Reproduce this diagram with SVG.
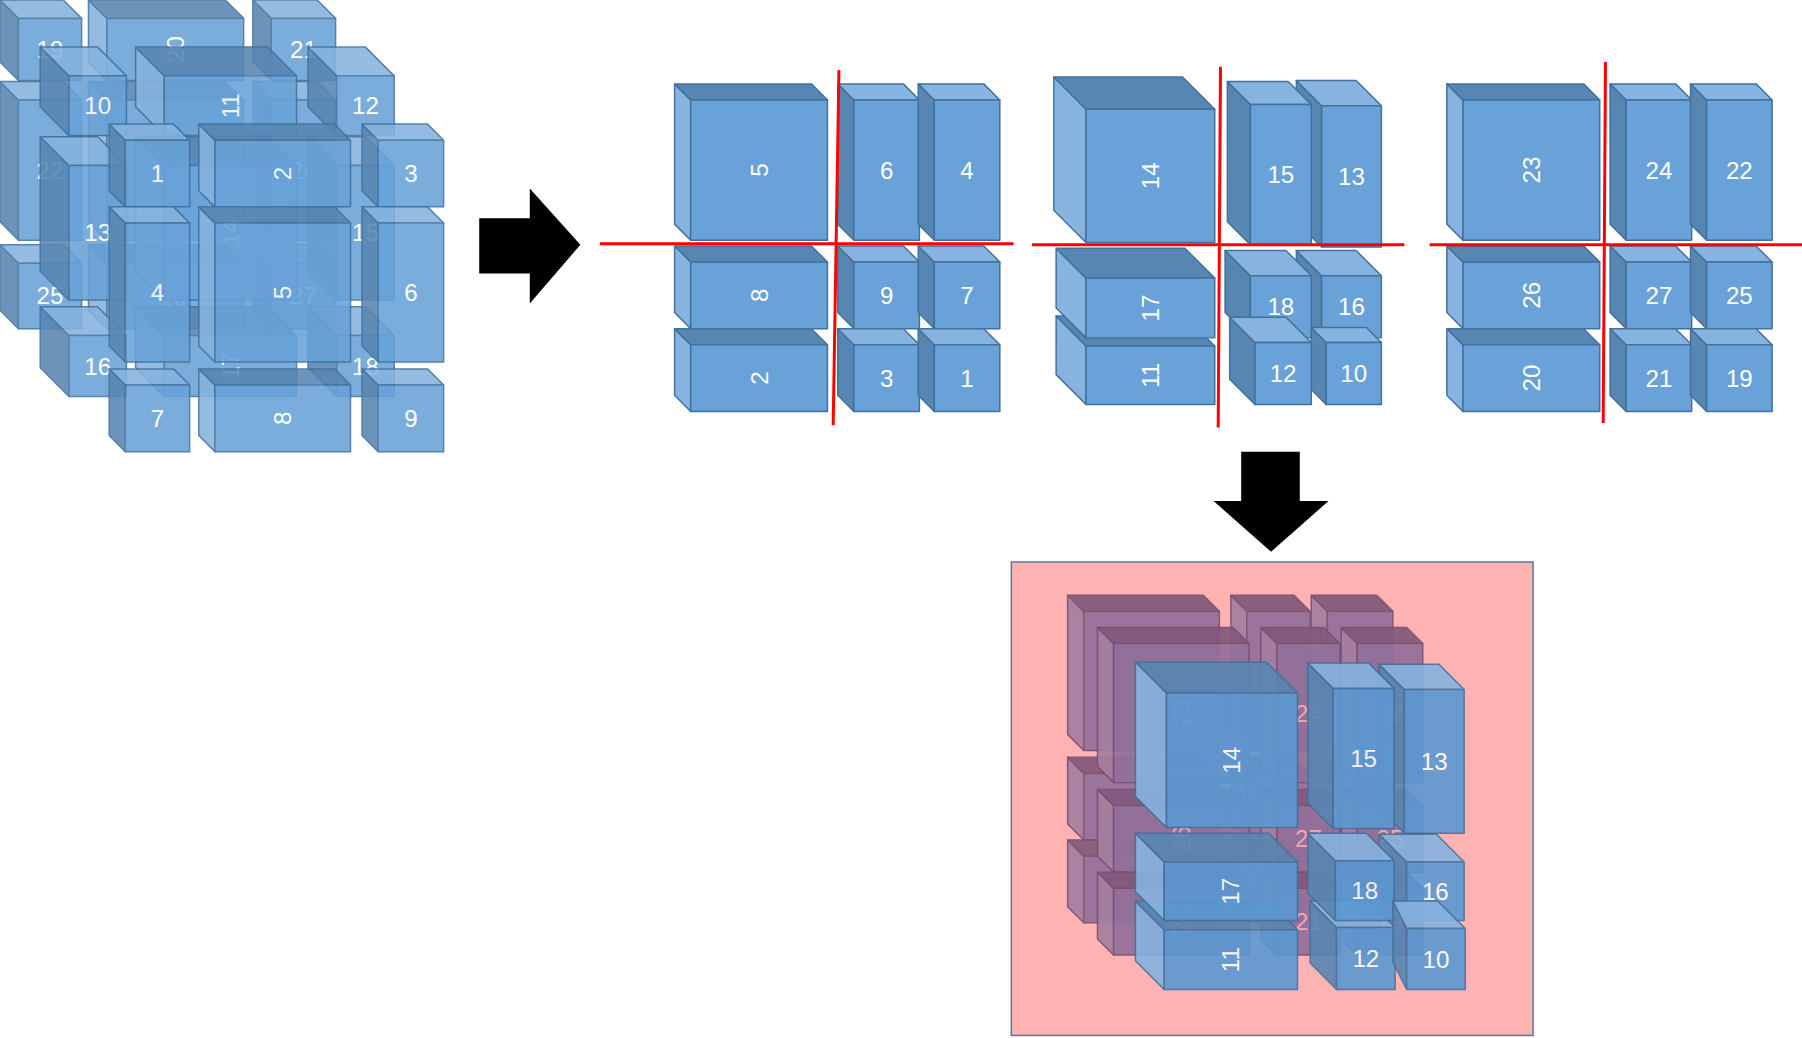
<svg xmlns="http://www.w3.org/2000/svg" width="1802" height="1038" viewBox="0 0 1802 1038">
<style>
.c rect,.c path{stroke:#41719c;stroke-width:1.3;stroke-linejoin:round}
.c rect{fill:#68a2d8}
.c .s{fill:#5886b2}.c .t{fill:#86b3df}
.c.w .t{fill:#5886b2}.c.w .s{fill:#86b3df}
.L .c{opacity:.88}
.P .c{opacity:.93}
.P rect,.P path{stroke:#7a4f72;stroke-width:1.3;stroke-linejoin:round}
.P rect{fill:#93709a}.P .t{fill:#835a7c}.P .s{fill:#a57f9f}
.B .c{opacity:.9}
.B rect{fill:#5b98d2}
text{font-family:"Liberation Sans",Arial,sans-serif;font-size:21px;fill:#fff;text-anchor:middle;dominant-baseline:central}
.P text{fill:#f3aab6}
.red{stroke:#f00;stroke-width:2.6;fill:none}
</style>
<g transform="scale(1.14923)">
<g id="left" class="L">
<g id="l19" class="c"><path class="s" d="M0 0L16 16V70L0 54Z"/><path class="t" d="M0 0H55L71 16H16Z"/><rect x="16" y="16" width="55" height="54"/><text x="43.5" y="43">19</text></g>
<g id="l20" class="c w"><path class="s" d="M77 0L93 16V70L77 54Z"/><path class="t" d="M77 0H196L212 16H93Z"/><rect x="93" y="16" width="119" height="54"/><text x="152.5" y="43" transform="rotate(-90 152.5 43)">20</text></g>
<g id="l21" class="c"><path class="s" d="M220 0L236 16V70L220 54Z"/><path class="t" d="M220 0H276L292 16H236Z"/><rect x="236" y="16" width="56" height="54"/><text x="264" y="43">21</text></g>
<g id="l22" class="c"><path class="s" d="M0 71L16 87V209L0 193Z"/><path class="t" d="M0 71H55L71 87H16Z"/><rect x="16" y="87" width="55" height="122"/><text x="43.5" y="148">22</text></g>
<g id="l23" class="c w"><path class="s" d="M77 71L93 87V209L77 193Z"/><path class="t" d="M77 71H196L212 87H93Z"/><rect x="93" y="87" width="119" height="122"/><text x="152.5" y="148" transform="rotate(-90 152.5 148)">23</text></g>
<g id="l24" class="c"><path class="s" d="M220 71L236 87V209L220 193Z"/><path class="t" d="M220 71H276L292 87H236Z"/><rect x="236" y="87" width="56" height="122"/><text x="264" y="148">24</text></g>
<g id="l25" class="c"><path class="s" d="M0 213L16 229V286L0 270Z"/><path class="t" d="M0 213H55L71 229H16Z"/><rect x="16" y="229" width="55" height="57"/><text x="43.5" y="257.5">25</text></g>
<g id="l26" class="c w"><path class="s" d="M77 213L93 229V286L77 270Z"/><path class="t" d="M77 213H196L212 229H93Z"/><rect x="93" y="229" width="119" height="57"/><text x="152.5" y="257.5" transform="rotate(-90 152.5 257.5)">26</text></g>
<g id="l27" class="c"><path class="s" d="M220 213L236 229V286L220 270Z"/><path class="t" d="M220 213H276L292 229H236Z"/><rect x="236" y="229" width="56" height="57"/><text x="264" y="257.5">27</text></g>

<g id="l10" class="c"><path class="s" d="M35 41L60 66V118L35 93Z"/><path class="t" d="M35 41H85L110 66H60Z"/><rect x="60" y="66" width="50" height="52"/><text x="85" y="92">10</text></g>
<g id="l11" class="c w"><path class="s" d="M118 41L143 66V118L118 93Z"/><path class="t" d="M118 41H233L258 66H143Z"/><rect x="143" y="66" width="115" height="52"/><text x="200.5" y="92" transform="rotate(-90 200.5 92)">11</text></g>
<g id="l12" class="c"><path class="s" d="M268 41L293 66V118L268 93Z"/><path class="t" d="M268 41H318L343 66H293Z"/><rect x="293" y="66" width="50" height="52"/><text x="318" y="92">12</text></g>
<g id="l13" class="c"><path class="s" d="M35 119L60 144V261L35 236Z"/><path class="t" d="M35 119H85L110 144H60Z"/><rect x="60" y="144" width="50" height="117"/><text x="85" y="202.5">13</text></g>
<g id="l14" class="c w"><path class="s" d="M118 119L143 144V261L118 236Z"/><path class="t" d="M118 119H233L258 144H143Z"/><rect x="143" y="144" width="115" height="117"/><text x="200.5" y="202.5" transform="rotate(-90 200.5 202.5)">14</text></g>
<g id="l15" class="c"><path class="s" d="M268 119L293 144V261L268 236Z"/><path class="t" d="M268 119H318L343 144H293Z"/><rect x="293" y="144" width="50" height="117"/><text x="318" y="202.5">15</text></g>
<g id="l16" class="c"><path class="s" d="M35 267L60 292V345L35 320Z"/><path class="t" d="M35 267H85L110 292H60Z"/><rect x="60" y="292" width="50" height="53"/><text x="85" y="318.5">16</text></g>
<g id="l17" class="c w"><path class="s" d="M118 267L143 292V345L118 320Z"/><path class="t" d="M118 267H233L258 292H143Z"/><rect x="143" y="292" width="115" height="53"/><text x="200.5" y="318.5" transform="rotate(-90 200.5 318.5)">17</text></g>
<g id="l18" class="c"><path class="s" d="M268 267L293 292V345L268 320Z"/><path class="t" d="M268 267H318L343 292H293Z"/><rect x="293" y="292" width="50" height="53"/><text x="318" y="318.5">18</text></g>

<g id="l1" class="c"><path class="s" d="M95 108L109 122V180L95 166Z"/><path class="t" d="M95 108H151L165 122H109Z"/><rect x="109" y="122" width="56" height="58"/><text x="137" y="151">1</text></g>
<g id="l2" class="c w"><path class="s" d="M173 108L187 122V180L173 166Z"/><path class="t" d="M173 108H291L305 122H187Z"/><rect x="187" y="122" width="118" height="58"/><text x="246" y="151" transform="rotate(-90 246 151)">2</text></g>
<g id="l3" class="c"><path class="s" d="M315 108L329 122V180L315 166Z"/><path class="t" d="M315 108H372L386 122H329Z"/><rect x="329" y="122" width="57" height="58"/><text x="357.5" y="151">3</text></g>
<g id="l4" class="c"><path class="s" d="M95 180L109 194V315L95 301Z"/><path class="t" d="M95 180H151L165 194H109Z"/><rect x="109" y="194" width="56" height="121"/><text x="137" y="254.5">4</text></g>
<g id="l5" class="c w"><path class="s" d="M173 180L187 194V315L173 301Z"/><path class="t" d="M173 180H291L305 194H187Z"/><rect x="187" y="194" width="118" height="121"/><text x="246" y="254.5" transform="rotate(-90 246 254.5)">5</text></g>
<g id="l6" class="c"><path class="s" d="M315 180L329 194V315L315 301Z"/><path class="t" d="M315 180H372L386 194H329Z"/><rect x="329" y="194" width="57" height="121"/><text x="357.5" y="254.5">6</text></g>
<g id="l7" class="c"><path class="s" d="M95 321L109 335V393L95 379Z"/><path class="t" d="M95 321H151L165 335H109Z"/><rect x="109" y="335" width="56" height="58"/><text x="137" y="364">7</text></g>
<g id="l8" class="c w"><path class="s" d="M173 321L187 335V393L173 379Z"/><path class="t" d="M173 321H291L305 335H187Z"/><rect x="187" y="335" width="118" height="58"/><text x="246" y="364" transform="rotate(-90 246 364)">8</text></g>
<g id="l9" class="c"><path class="s" d="M315 321L329 335V393L315 379Z"/><path class="t" d="M315 321H372L386 335H329Z"/><rect x="329" y="335" width="57" height="58"/><text x="357.5" y="364">9</text></g>
</g>

<g id="connectors">
<polygon points="417,190 461,190 461,164 505,213 461,264 461,238 417,238" fill="#000"/>
<polygon points="1080,393 1131,393 1131,436 1156,436 1106,480 1056,436 1080,436" fill="#000"/>
</g>

<g id="panelA">
<g id="a5" class="c w"><path class="s" d="M587 73L601 87V209L587 195Z"/><path class="t" d="M587 73H706L720 87H601Z"/><rect x="601" y="87" width="119" height="122"/><text x="660.5" y="148" transform="rotate(-90 660.5 148)">5</text></g>
<g id="a6" class="c"><path class="s" d="M729 73L743 87V209L729 195Z"/><path class="t" d="M729 73H786L800 87H743Z"/><rect x="743" y="87" width="57" height="122"/><text x="771.5" y="148">6</text></g>
<g id="a4" class="c"><path class="s" d="M799 73L813 87V209L799 195Z"/><path class="t" d="M799 73H856L870 87H813Z"/><rect x="813" y="87" width="57" height="122"/><text x="841.5" y="148">4</text></g>
<g id="a8" class="c w"><path class="s" d="M587 214L601 228V286L587 272Z"/><path class="t" d="M587 214H706L720 228H601Z"/><rect x="601" y="228" width="119" height="58"/><text x="660.5" y="257" transform="rotate(-90 660.5 257)">8</text></g>
<g id="a9" class="c"><path class="s" d="M729 214L743 228V286L729 272Z"/><path class="t" d="M729 214H786L800 228H743Z"/><rect x="743" y="228" width="57" height="58"/><text x="771.5" y="257">9</text></g>
<g id="a7" class="c"><path class="s" d="M799 214L813 228V286L799 272Z"/><path class="t" d="M799 214H856L870 228H813Z"/><rect x="813" y="228" width="57" height="58"/><text x="841.5" y="257">7</text></g>
<g id="a2" class="c w"><path class="s" d="M587 286L601 300V358L587 344Z"/><path class="t" d="M587 286H706L720 300H601Z"/><rect x="601" y="300" width="119" height="58"/><text x="660.5" y="329" transform="rotate(-90 660.5 329)">2</text></g>
<g id="a3" class="c"><path class="s" d="M729 286L743 300V358L729 344Z"/><path class="t" d="M729 286H786L800 300H743Z"/><rect x="743" y="300" width="57" height="58"/><text x="771.5" y="329">3</text></g>
<g id="a1" class="c"><path class="s" d="M799 286L813 300V358L799 344Z"/><path class="t" d="M799 286H856L870 300H813Z"/><rect x="813" y="300" width="57" height="58"/><text x="841.5" y="329">1</text></g>
<path class="red" d="M522 212H882M730 61L725 370"/>
</g>

<g id="panelC" transform="translate(672,0)">
<g id="c23" class="c w"><path class="s" d="M587 73L601 87V209L587 195Z"/><path class="t" d="M587 73H706L720 87H601Z"/><rect x="601" y="87" width="119" height="122"/><text x="660.5" y="148" transform="rotate(-90 660.5 148)">23</text></g>
<g id="c24" class="c"><path class="s" d="M729 73L743 87V209L729 195Z"/><path class="t" d="M729 73H786L800 87H743Z"/><rect x="743" y="87" width="57" height="122"/><text x="771.5" y="148">24</text></g>
<g id="c22" class="c"><path class="s" d="M799 73L813 87V209L799 195Z"/><path class="t" d="M799 73H856L870 87H813Z"/><rect x="813" y="87" width="57" height="122"/><text x="841.5" y="148">22</text></g>
<g id="c26" class="c w"><path class="s" d="M587 214L601 228V286L587 272Z"/><path class="t" d="M587 214H706L720 228H601Z"/><rect x="601" y="228" width="119" height="58"/><text x="660.5" y="257" transform="rotate(-90 660.5 257)">26</text></g>
<g id="c27" class="c"><path class="s" d="M729 214L743 228V286L729 272Z"/><path class="t" d="M729 214H786L800 228H743Z"/><rect x="743" y="228" width="57" height="58"/><text x="771.5" y="257">27</text></g>
<g id="c25" class="c"><path class="s" d="M799 214L813 228V286L799 272Z"/><path class="t" d="M799 214H856L870 228H813Z"/><rect x="813" y="228" width="57" height="58"/><text x="841.5" y="257">25</text></g>
<g id="c20" class="c w"><path class="s" d="M587 286L601 300V358L587 344Z"/><path class="t" d="M587 286H706L720 300H601Z"/><rect x="601" y="300" width="119" height="58"/><text x="660.5" y="329" transform="rotate(-90 660.5 329)">20</text></g>
<g id="c21" class="c"><path class="s" d="M729 286L743 300V358L729 344Z"/><path class="t" d="M729 286H786L800 300H743Z"/><rect x="743" y="300" width="57" height="58"/><text x="771.5" y="329">21</text></g>
<g id="c19" class="c"><path class="s" d="M799 286L813 300V358L799 344Z"/><path class="t" d="M799 286H856L870 300H813Z"/><rect x="813" y="300" width="57" height="58"/><text x="841.5" y="329">19</text></g>
<path class="red" d="M572 213H896M725 54L723 368"/>
</g>

<g id="panelB">
<g id="b13" class="c"><path class="s" d="M1128 70L1150 92V215L1128 193Z"/><path class="t" d="M1128 70H1180L1202 92H1150Z"/><rect x="1150" y="92" width="52" height="123"/><text x="1176" y="153.5">13</text></g>
<g id="b15" class="c"><path class="s" d="M1068 71L1088 91V213L1068 193Z"/><path class="t" d="M1068 71H1121L1141 91H1088Z"/><rect x="1088" y="91" width="53" height="122"/><text x="1114.5" y="152">15</text></g>
<g id="b14" class="c w"><path class="s" d="M917 67L945 95V211L917 183Z"/><path class="t" d="M917 67H1029L1057 95H945Z"/><rect x="945" y="95" width="112" height="116"/><text x="1001" y="153" transform="rotate(-90 1001 153)">14</text></g>
<g id="b11" class="c w"><path class="s" d="M919 275L945 301V352L919 326Z"/><path class="t" d="M919 275H1031L1057 301H945Z"/><rect x="945" y="301" width="112" height="51"/><text x="1001" y="326.5" transform="rotate(-90 1001 326.5)">11</text></g>
<g id="b17" class="c w"><path class="s" d="M919 216L945 242V294L919 268Z"/><path class="t" d="M919 216H1031L1057 242H945Z"/><rect x="945" y="242" width="112" height="52"/><text x="1001" y="268" transform="rotate(-90 1001 268)">17</text></g>
<g id="b16" class="c"><path class="s" d="M1128 218L1150 240V294L1128 272Z"/><path class="t" d="M1128 218H1180L1202 240H1150Z"/><rect x="1150" y="240" width="52" height="54"/><text x="1176" y="267">16</text></g>
<g id="b18" class="c"><path class="s" d="M1066 218L1088 240V294L1066 272Z"/><path class="t" d="M1066 218H1119L1141 240H1088Z"/><rect x="1088" y="240" width="53" height="54"/><text x="1114.5" y="267">18</text></g>
<g id="b10" class="c"><path class="s" d="M1141 285L1154 298V352L1141 339Z"/><path class="t" d="M1141 285H1189L1202 298H1154Z"/><rect x="1154" y="298" width="48" height="54"/><text x="1178" y="325">10</text></g>
<g id="b12" class="c"><path class="s" d="M1070 276L1092 298V352L1070 330Z"/><path class="t" d="M1070 276H1119L1141 298H1092Z"/><rect x="1092" y="298" width="49" height="54"/><text x="1116.5" y="325">12</text></g>
<path class="red" d="M898 213H1222M1062 58L1060 372"/>
</g>

<g id="result">
<rect x="880" y="489" width="454" height="412" fill="#feb2b2" stroke="#4f7aa5" stroke-width="1.3"/>
<g id="purpleBack" class="P" transform="translate(-26,-28)">
<g class="c"><path class="s" d="M955 546L969 560V681L955 667Z"/><path class="t" d="M955 546H1073L1087 560H969Z"/><rect x="969" y="560" width="118" height="121"/></g>
<g class="c"><path class="s" d="M1097 546L1111 560V681L1097 667Z"/><path class="t" d="M1097 546H1152L1166 560H1111Z"/><rect x="1111" y="560" width="55" height="121"/></g>
<g class="c"><path class="s" d="M1167 546L1181 560V681L1167 667Z"/><path class="t" d="M1167 546H1224L1238 560H1181Z"/><rect x="1181" y="560" width="57" height="121"/></g>
<g class="c"><path class="s" d="M955 687L969 701V759L955 745Z"/><path class="t" d="M955 687H1073L1087 701H969Z"/><rect x="969" y="701" width="118" height="58"/></g>
<g class="c"><path class="s" d="M1097 687L1111 701V759L1097 745Z"/><path class="t" d="M1097 687H1152L1166 701H1111Z"/><rect x="1111" y="701" width="55" height="58"/></g>
<g class="c"><path class="s" d="M1167 687L1181 701V759L1167 745Z"/><path class="t" d="M1167 687H1224L1238 701H1181Z"/><rect x="1181" y="701" width="57" height="58"/></g>
<g class="c"><path class="s" d="M955 759L969 773V831L955 817Z"/><path class="t" d="M955 759H1073L1087 773H969Z"/><rect x="969" y="773" width="118" height="58"/></g>
<g class="c"><path class="s" d="M1097 759L1111 773V831L1097 817Z"/><path class="t" d="M1097 759H1152L1166 773H1111Z"/><rect x="1111" y="773" width="55" height="58"/></g>
<g class="c"><path class="s" d="M1167 759L1181 773V831L1167 817Z"/><path class="t" d="M1167 759H1224L1238 773H1181Z"/><rect x="1181" y="773" width="57" height="58"/></g>
</g>
<g id="purpleMid" class="P">
<g id="p23" class="c"><path class="s" d="M955 546L969 560V681L955 667Z"/><path class="t" d="M955 546H1073L1087 560H969Z"/><rect x="969" y="560" width="118" height="121"/><text x="1028" y="620.5" transform="rotate(-90 1028 620.5)">23</text></g>
<g id="p24" class="c"><path class="s" d="M1097 546L1111 560V681L1097 667Z"/><path class="t" d="M1097 546H1152L1166 560H1111Z"/><rect x="1111" y="560" width="55" height="121"/><text x="1138.5" y="620.5">24</text></g>
<g id="p22" class="c"><path class="s" d="M1167 546L1181 560V681L1167 667Z"/><path class="t" d="M1167 546H1224L1238 560H1181Z"/><rect x="1181" y="560" width="57" height="121"/><text x="1209.5" y="620.5">22</text></g>
<g id="p26" class="c"><path class="s" d="M955 687L969 701V759L955 745Z"/><path class="t" d="M955 687H1073L1087 701H969Z"/><rect x="969" y="701" width="118" height="58"/><text x="1028" y="730" transform="rotate(-90 1028 730)">26</text></g>
<g id="p27" class="c"><path class="s" d="M1097 687L1111 701V759L1097 745Z"/><path class="t" d="M1097 687H1152L1166 701H1111Z"/><rect x="1111" y="701" width="55" height="58"/><text x="1138.5" y="730">27</text></g>
<g id="p25" class="c"><path class="s" d="M1167 687L1181 701V759L1167 745Z"/><path class="t" d="M1167 687H1224L1238 701H1181Z"/><rect x="1181" y="701" width="57" height="58"/><text x="1209.5" y="730">25</text></g>
<g id="p20" class="c"><path class="s" d="M955 759L969 773V831L955 817Z"/><path class="t" d="M955 759H1073L1087 773H969Z"/><rect x="969" y="773" width="118" height="58"/><text x="1028" y="802" transform="rotate(-90 1028 802)">20</text></g>
<g id="p21" class="c"><path class="s" d="M1097 759L1111 773V831L1097 817Z"/><path class="t" d="M1097 759H1152L1166 773H1111Z"/><rect x="1111" y="773" width="55" height="58"/><text x="1138.5" y="802">21</text></g>
<g id="p19" class="c"><path class="s" d="M1167 759L1181 773V831L1167 817Z"/><path class="t" d="M1167 759H1224L1238 773H1181Z"/><rect x="1181" y="773" width="57" height="58"/><text x="1209.5" y="802">19</text></g>
</g>
<g id="blueFront" class="B">
<g id="r11" class="c w"><path class="s" d="M988 784L1013 809V861L988 836Z"/><path class="t" d="M988 784H1104L1129 809H1013Z"/><rect x="1013" y="809" width="116" height="52"/><text x="1071" y="835" transform="rotate(-90 1071 835)">11</text></g>
<g id="r12" class="c"><path class="s" d="M1140 784L1163 807V861L1140 838Z"/><path class="t" d="M1140 784H1191L1214 807H1163Z"/><rect x="1163" y="807" width="51" height="54"/><text x="1188.5" y="834">12</text></g>
<g id="r17" class="c w"><path class="s" d="M988 725L1013 750V801L988 776Z"/><path class="t" d="M988 725H1104L1129 750H1013Z"/><rect x="1013" y="750" width="116" height="51"/><text x="1071" y="775.5" transform="rotate(-90 1071 775.5)">17</text></g>
<g id="r16" class="c"><path class="s" d="M1200 726L1224 750V801L1200 777Z"/><path class="t" d="M1200 726H1250L1274 750H1224Z"/><rect x="1224" y="750" width="50" height="51"/><text x="1249" y="775.5">16</text></g>
<g id="r18" class="c"><path class="s" d="M1138 725L1162 749V801L1138 777Z"/><path class="t" d="M1138 725H1189L1213 749H1162Z"/><rect x="1162" y="749" width="51" height="52"/><text x="1187.5" y="775">18</text></g>
<g id="r10" class="c"><path class="s" d="M1212 784L1224 808V861L1212 837Z"/><path class="t" d="M1212 784H1251L1275 808H1224Z"/><rect x="1224" y="808" width="51" height="53"/><text x="1249.5" y="834.5">10</text></g>
<g id="r13" class="c"><path class="s" d="M1200 578L1222 600V725L1200 703Z"/><path class="t" d="M1200 578H1252L1274 600H1222Z"/><rect x="1222" y="600" width="52" height="125"/><text x="1248" y="662.5">13</text></g>
<g id="r15" class="c"><path class="s" d="M1138 577L1160 599V721L1138 699Z"/><path class="t" d="M1138 577H1191L1213 599H1160Z"/><rect x="1160" y="599" width="53" height="122"/><text x="1186.5" y="660">15</text></g>
<g id="r14" class="c w"><path class="s" d="M988 576L1015 603V720L988 693Z"/><path class="t" d="M988 576H1102L1129 603H1015Z"/><rect x="1015" y="603" width="114" height="117"/><text x="1072" y="661.5" transform="rotate(-90 1072 661.5)">14</text></g>
</g>
</g>
</g>
</svg>
